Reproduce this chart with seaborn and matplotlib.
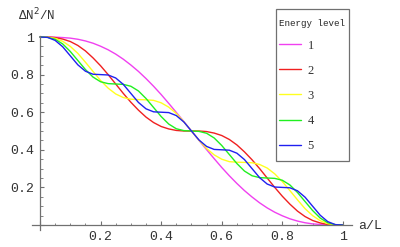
import numpy as np
import pandas as pd
import matplotlib
matplotlib.use("Agg")
import matplotlib.pyplot as plt
import seaborn as sns
from matplotlib.lines import Line2D
from matplotlib.patches import Rectangle
from matplotlib.ticker import MultipleLocator, FuncFormatter

# a/L sample positions (step 0.025)
a_over_L = [round(i * 0.025, 3) for i in range(41)]

level_1 = [1.000, 1.000, 0.999, 0.997, 0.994, 0.988, 0.979, 0.967, 0.951, 0.932,
           0.909, 0.882, 0.851, 0.817, 0.779, 0.738, 0.694, 0.647, 0.599, 0.550,
           0.500, 0.450, 0.401, 0.353, 0.306, 0.262, 0.221, 0.183, 0.149, 0.118,
           0.091, 0.068, 0.049, 0.033, 0.021, 0.012, 0.006, 0.003, 0.001, 0.000, 0.000]
level_2 = [1.000, 1.000, 0.997, 0.989, 0.976, 0.955, 0.926, 0.889, 0.847, 0.800,
           0.750, 0.700, 0.653, 0.611, 0.574, 0.545, 0.524, 0.511, 0.503, 0.500,
           0.500, 0.500, 0.497, 0.489, 0.476, 0.455, 0.426, 0.389, 0.347, 0.300,
           0.250, 0.200, 0.153, 0.111, 0.074, 0.045, 0.024, 0.011, 0.003, 0.000, 0.000]
level_3 = [1.000, 0.999, 0.993, 0.977, 0.950, 0.913, 0.866, 0.817, 0.769, 0.728,
           0.697, 0.678, 0.669, 0.667, 0.666, 0.663, 0.650, 0.627, 0.593, 0.549,
           0.500, 0.451, 0.407, 0.373, 0.350, 0.337, 0.334, 0.333, 0.331, 0.322,
           0.303, 0.272, 0.231, 0.183, 0.134, 0.087, 0.050, 0.023, 0.007, 0.001, 0.000]
level_4 = [1.000, 0.998, 0.988, 0.963, 0.923, 0.875, 0.827, 0.787, 0.762, 0.752,
           0.750, 0.748, 0.738, 0.713, 0.673, 0.625, 0.577, 0.537, 0.512, 0.502,
           0.500, 0.498, 0.488, 0.463, 0.423, 0.375, 0.327, 0.287, 0.262, 0.252,
           0.250, 0.248, 0.238, 0.213, 0.173, 0.125, 0.077, 0.037, 0.012, 0.002, 0.000]
level_5 = [1.000, 0.998, 0.982, 0.948, 0.900, 0.852, 0.818, 0.802, 0.800, 0.798,
           0.782, 0.748, 0.700, 0.652, 0.618, 0.602, 0.600, 0.598, 0.582, 0.548,
           0.500, 0.452, 0.418, 0.402, 0.400, 0.398, 0.382, 0.348, 0.300, 0.252,
           0.218, 0.202, 0.200, 0.198, 0.182, 0.148, 0.100, 0.052, 0.018, 0.002, 0.000]

levels = ["1", "2", "3", "4", "5"]
series = [level_1, level_2, level_3, level_4, level_5]
colors = ["#f040f0", "#f02020", "#ffff20", "#20f020", "#2020f0"]

frames = []
for lev, vals in zip(levels, series):
    frames.append(pd.DataFrame({"a/L": a_over_L, "value": vals, "level": lev}))
df = pd.concat(frames, ignore_index=True)

sns.set_style("white")
plt.rcParams["font.family"] = ["Liberation Mono", "DejaVu Sans"]

fig = plt.figure(figsize=(4.0, 2.47), dpi=100)
ax = fig.add_axes([0.0795, 0.070, 0.8005, 0.784])

sns.lineplot(data=df, x="a/L", y="value", hue="level", palette=dict(zip(levels, colors)),
             linewidth=1.0, ax=ax, legend=False, sort=False, estimator=None)

ax.set_xlim(-0.027, 1.03)
ax.set_ylim(-0.025, 1.005)

for s in ["top", "right"]:
    ax.spines[s].set_visible(False)
ax.spines["left"].set_position(("data", 0))
ax.spines["bottom"].set_position(("data", 0))
for s in ["left", "bottom"]:
    ax.spines[s].set_color("#707070")
    ax.spines[s].set_linewidth(0.9)

ax.xaxis.set_major_locator(MultipleLocator(0.2))
ax.xaxis.set_minor_locator(MultipleLocator(0.05))
ax.yaxis.set_major_locator(MultipleLocator(0.2))
ax.yaxis.set_minor_locator(MultipleLocator(0.05))

def fmt(v, pos):
    if abs(v) < 1e-9:
        return ""
    if abs(v - 1) < 1e-9:
        return "1"
    return f"{v:.1f}"

ax.xaxis.set_major_formatter(FuncFormatter(fmt))
ax.yaxis.set_major_formatter(FuncFormatter(fmt))
ax.tick_params(which="major", direction="in", length=3, width=0.8, color="#707070",
               labelsize=9.5, labelcolor="#333333", pad=4)
ax.tick_params(which="minor", direction="in", length=1.8, width=0.6, color="#707070")
ax.tick_params(axis="x", which="both", bottom=True, top=False)
ax.tick_params(axis="y", which="both", left=True, right=False)
ax.set_xlabel("")
ax.set_ylabel("")

fig.text(0.045, 0.94, "ΔN$^2$/N", fontsize=9, color="#333333", va="center", ha="left",
         family=["Liberation Mono", "DejaVu Sans"])
fig.text(0.895, 0.085, "a/L", fontsize=9.5, color="#333333", va="center", ha="left")

# legend frame
fig.patches.append(Rectangle((0.69, 0.3482), 0.1825, 0.6154, transform=fig.transFigure,
                             facecolor="white", edgecolor="#707070", linewidth=0.9,
                             zorder=5))

handles = [Line2D([0], [0], color=c, lw=1.0) for c in colors]
leg = fig.legend(handles, levels, title="Energy level", loc="upper left",
                 bbox_to_anchor=(0.6985, 0.9211, 0.0, 0.0), bbox_transform=fig.transFigure,
                 frameon=False, handlelength=1.76, handletextpad=0.5,
                 labelspacing=1.05, borderpad=0.0, borderaxespad=0,
                 prop={"family": "Liberation Serif", "size": 9},
                 title_fontproperties={"family": "Liberation Mono", "size": 6.6})
leg.set_zorder(6)
leg._legend_box.align = "left"
leg._legend_box.sep = 8
for t in leg.get_texts():
    t.set_color("#333333")

fig.savefig("out.png", dpi=100)
